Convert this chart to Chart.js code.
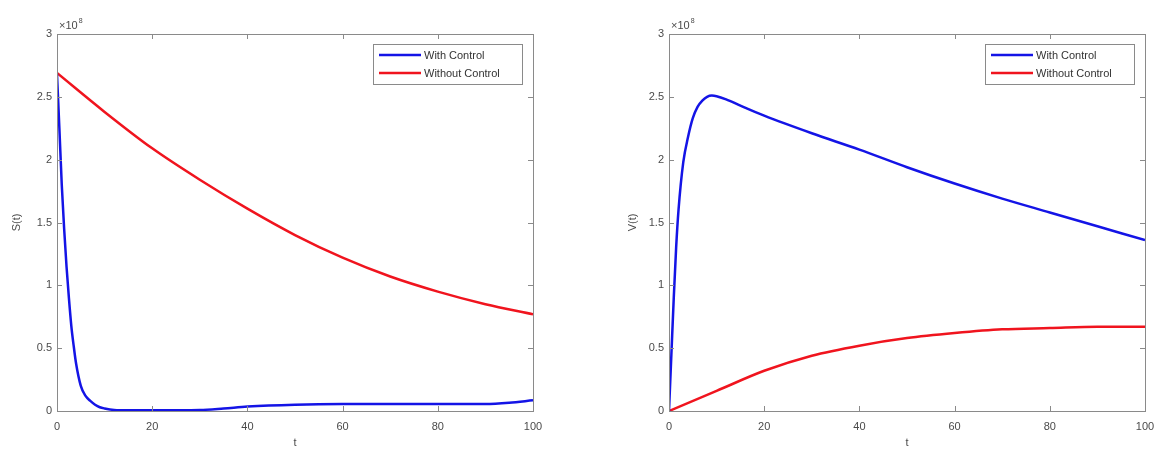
<!DOCTYPE html>
<html>
<head>
<meta charset="utf-8">
<script src="https://cdn.jsdelivr.net/npm/chart.js@4.4.1/dist/chart.umd.min.js"></script>
<style>
  html, body { margin: 0; padding: 0; background: #fff; }
  #wrap { position: relative; width: 1158px; height: 450px; }
  .cv { position: absolute; top: 0; width: 579px; height: 450px; }
</style>
</head>
<body>
<div id="wrap">
  <div class="cv" style="left:0"><canvas id="c1"></canvas></div>
  <div class="cv" style="left:579px"><canvas id="c2"></canvas></div>
</div>
<script>
// ---- Data (values in units of 10^8) ----
const seriesLabels = ["With Control", "Without Control"];
const xTicks = [0, 20, 40, 60, 80, 100];
const yTicks = [0, 0.5, 1, 1.5, 2, 2.5, 3];
const exponent = "8";

const tSWith = [0,0.5,1,1.5,2,2.5,3,3.5,4,5,6,7,8,9,10,12,15,20,30,35,40,50,60,70,80,90,95,100];
const sWith  = [2.68,2.25,1.8,1.45,1.15,0.9,0.68,0.52,0.38,0.2,0.12,0.08,0.05,0.03,0.02,0.008,0.005,0.005,0.008,0.02,0.035,0.05,0.055,0.055,0.055,0.055,0.065,0.085];
const tSWithout = [0,10,20,30,40,50,60,70,80,90,100];
const sWithout  = [2.69,2.38,2.09,1.84,1.61,1.40,1.22,1.07,0.95,0.85,0.77];

const tVWith = [0,0.5,1,1.5,2,3,4,5,6,7,8,9,10,12,15,20,30,40,50,60,70,80,90,100];
const vWith  = [0,0.45,0.9,1.3,1.6,1.98,2.18,2.33,2.42,2.47,2.5,2.51,2.505,2.48,2.43,2.35,2.21,2.08,1.94,1.81,1.69,1.58,1.47,1.36];
const tVWithout = [0,10,20,30,40,50,60,70,80,90,100];
const vWithout  = [0,0.16,0.32,0.44,0.52,0.58,0.62,0.65,0.66,0.67,0.67];

const BLUE = "#1414e6";
const RED = "#f0141e";
const FRAME = "#8a8a8a";
const TXT = "#4a4a4a";
const FONT = "'Liberation Sans', Arial, sans-serif";

function pts(ts, ys) { return ts.map((t, i) => ({ x: t, y: ys[i] })); }

const matlabPlugin = {
  id: "matlab",
  afterDatasetsDraw(chart) {
    const ctx = chart.ctx, a = chart.chartArea;
    const xs = chart.scales.x, ys = chart.scales.y;
    ctx.save();
    ctx.strokeStyle = FRAME;
    ctx.lineWidth = 1;
    ctx.strokeRect(Math.round(a.left) + 0.5, Math.round(a.top) + 0.5,
                   Math.round(a.right - a.left), Math.round(a.bottom - a.top));
    const L = 5;
    ctx.beginPath();
    xTicks.forEach(v => {
      const px = Math.round(xs.getPixelForValue(v)) + 0.5;
      ctx.moveTo(px, a.bottom); ctx.lineTo(px, a.bottom - L);
      ctx.moveTo(px, a.top); ctx.lineTo(px, a.top + L);
    });
    yTicks.forEach(v => {
      const py = Math.round(ys.getPixelForValue(v)) + 0.5;
      ctx.moveTo(a.left, py); ctx.lineTo(a.left + L, py);
      ctx.moveTo(a.right, py); ctx.lineTo(a.right - L, py);
    });
    ctx.stroke();
    // exponent label
    ctx.fillStyle = TXT;
    ctx.textBaseline = "alphabetic";
    ctx.textAlign = "left";
    ctx.font = "11px " + FONT;
    const ex = a.left + 2, ey = a.top - 5;
    ctx.fillText("\u00d710", ex, ey);
    const w = ctx.measureText("\u00d710").width;
    ctx.font = "7px " + FONT;
    ctx.fillText(exponent, ex + w + 1, ey - 6);
    // legend box
    const bw = 149, bh = 40;
    const bx = a.right - 11 - bw, by = a.top + 10;
    ctx.fillStyle = "#fff";
    ctx.fillRect(bx, by, bw, bh);
    ctx.strokeStyle = FRAME;
    ctx.strokeRect(Math.round(bx) + 0.5, Math.round(by) + 0.5, bw, bh);
    ctx.font = "11px " + FONT;
    ctx.textBaseline = "middle";
    chart.data.datasets.forEach((ds, i) => {
      const ly = by + 11 + i * 18;
      ctx.strokeStyle = ds.borderColor;
      ctx.lineWidth = 2.5;
      ctx.beginPath();
      ctx.moveTo(bx + 6, ly); ctx.lineTo(bx + 48, ly);
      ctx.stroke();
      ctx.fillStyle = "#333";
      ctx.fillText(ds.label, bx + 51, ly + 1);
    });
    ctx.restore();
  }
};

function makeChart(id, ytitle, d1, d2, pad, yWidth) {
  return new Chart(document.getElementById(id), {
    type: "line",
    data: {
      datasets: [
        { label: seriesLabels[0], data: d1, borderColor: BLUE, borderWidth: 2.5, pointRadius: 0,
          cubicInterpolationMode: "monotone", fill: false },
        { label: seriesLabels[1], data: d2, borderColor: RED, borderWidth: 2.5, pointRadius: 0,
          cubicInterpolationMode: "monotone", fill: false }
      ]
    },
    options: {
      responsive: true,
      maintainAspectRatio: false,
      animation: false,
      layout: { padding: pad },
      plugins: { legend: { display: false }, tooltip: { enabled: false } },
      scales: {
        x: {
          type: "linear", min: 0, max: 100,
          afterBuildTicks: s => { s.ticks = xTicks.map(v => ({ value: v })); },
          grid: { display: false, drawTicks: false },
          border: { display: false },
          ticks: { color: TXT, font: { family: FONT, size: 11 }, padding: 9, maxRotation: 0,
                   callback: v => String(v) },
          title: { display: true, text: "t", color: TXT, font: { family: FONT, size: 11 }, padding: { top: 0, bottom: 0 } },
          afterFit: s => { s.height = 39; s.paddingLeft = 0; s.paddingRight = 0; }
        },
        y: {
          type: "linear", min: 0, max: 3,
          afterBuildTicks: s => { s.ticks = yTicks.map(v => ({ value: v })); },
          grid: { display: false, drawTicks: false },
          border: { display: false },
          ticks: { color: TXT, font: { family: FONT, size: 11 }, padding: 5,
                   callback: v => String(v) },
          title: { display: true, text: ytitle, color: TXT, font: { family: FONT, size: 11 }, padding: { top: 0, bottom: 0 } },
          afterFit: s => { s.width = yWidth; s.paddingTop = 0; s.paddingBottom = 0; }
        }
      }
    },
    plugins: [matlabPlugin]
  });
}

makeChart("c1", "S(t)", pts(tSWith, sWith), pts(tSWithout, sWithout),
  { top: 34, right: 46, bottom: 0, left: 10 }, 47);
makeChart("c2", "V(t)", pts(tVWith, vWith), pts(tVWithout, vWithout),
  { top: 34, right: 13, bottom: 0, left: 47 }, 43);
</script>
</body>
</html>
